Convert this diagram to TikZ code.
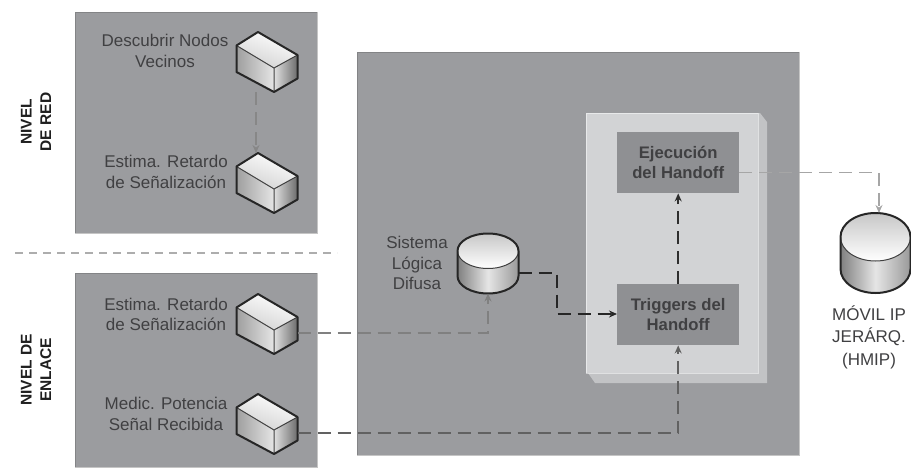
\documentclass[tikz,border=0pt]{standalone}
\usepackage{fontspec}
\setmainfont{Liberation Sans}
\usetikzlibrary{arrows.meta,calc}
\definecolor{panelgray}{HTML}{9B9C9F}
\definecolor{lightpanel}{HTML}{D2D3D5}
\definecolor{sidepanel}{HTML}{C2C3C5}
\definecolor{boxgray}{HTML}{8F9093}
\definecolor{inktext}{HTML}{404042}
\tikzset{
  panel/.style={fill=panelgray,draw=gray!70!black,draw opacity=.35,line width=.6pt,anchor=north west,inner sep=0pt},
  actionbox/.style={fill=boxgray,anchor=north west,inner sep=0pt,minimum width=122pt,minimum height=61pt,align=center,font=\fontsize{16.7}{20.5}\selectfont\bfseries,text=inktext},
  lbl/.style={align=center,font=\fontsize{17}{20.5}\selectfont,text=inktext,inner sep=0pt},
  side/.style={align=center,rotate=90,font=\fontsize{15.5}{19.5}\selectfont\bfseries,text=black!88,inner sep=0pt},
  outline/.style={draw=black!85,line width=2pt,line join=round},
  thin outline/.style={draw=black!75,line width=1pt},
  conn/.style={dash pattern=on 13pt off 7pt,line width=1.5pt,-{Stealth[length=8pt,width=7pt]}},
}
\newcommand{\cuboid}[3]{%
  \begin{scope}[shift={(#2,#3)}]
    \shade[top color=white,bottom color=black!18,shading angle=-20] (0,0)--(-21.5,13.5)--(16,36)--(39.5,23)--cycle;
    \shade[left color=black!38,right color=black!10] (-21.5,13.5)--(-21.5,40)--(16,60)--(16,36)--cycle;
    \shade[left color=black!12,right color=black!58] (16,36)--(16,60)--(39.5,46.5)--(39.5,23)--cycle;
    \draw[thin outline] (-21.5,13.5)--(16,36)--(39.5,23) (16,36)--(16,60);
    \draw[outline] (0,0)--(-21.5,13.5)--(-21.5,40)--(16,60)--(39.5,46.5)--(39.5,23)--cycle;
    \coordinate (#1-top) at (-2,0);
    \coordinate (#1-bottom) at (-2,60);
    \coordinate (#1-right) at (39.5,39);
  \end{scope}}
\newcommand{\drum}[6]{% name, cx, top-ellipse cy, rx, ry, height
  \begin{scope}[shift={(#2,#3)}]
    \shade[left color=black!50,right color=black!40,middle color=black!10] (-#4,0)--(-#4,#6) arc[start angle=180,end angle=360,x radius=#4,y radius=-#5] -- (#4,0) -- cycle;
    \shade[top color=black!22,bottom color=white] (0,0) ellipse[x radius=#4,y radius=#5];
    \draw[thin outline] (-#4,0) arc[start angle=180,end angle=360,x radius=#4,y radius=-#5];
    \draw[outline] (-#4,0) arc[start angle=180,end angle=0,x radius=#4,y radius=-#5] -- (#4,#6) arc[start angle=360,end angle=180,x radius=#4,y radius=-#5] -- cycle;
    \coordinate (#1-top) at (0,-#5);
    \coordinate (#1-bottom) at (0,#6+#5);
    \coordinate (#1-right) at (#4,22);
  \end{scope}}
\begin{document}
\begin{tikzpicture}[x=1pt,y=-1pt]
\path[use as bounding box] (0,0) rectangle (911,469);
% panels
\node[panel,minimum width=242pt,minimum height=221pt] (netpanel) at (75,12) {};
\node[panel,minimum width=242pt,minimum height=194pt] (linkpanel) at (75,273) {};
\node[panel,minimum width=442pt,minimum height=403pt] (mainpanel) at (357,52) {};
% stacked light panel
\fill[sidepanel] (586,113)--(760,113)--(767,122)--(767,383)--(595,383)--(588,373)--cycle;
\node[fill=lightpanel,draw=white,draw opacity=.5,line width=.5pt,anchor=north west,inner sep=0pt,minimum width=172pt,minimum height=260pt] (handoffpanel) at (586,113) {};
% boxes
\node[actionbox] (ejec) at (617,132) {Ejecución\\del Handoff};
\node[actionbox] (trig) at (617,284) {Triggers del\\Handoff};
% cuboids
\cuboid{c1}{258}{32}
\cuboid{c2}{258}{153}
\cuboid{c3}{258}{294}
\cuboid{c4}{258}{394}
% drums
\drum{sis}{488}{251}{30.5}{17.5}{25}
\drum{hmip}{875.5}{237}{35}{24}{32}
% labels
\node[lbl] (t1) at (165,51) {Descubrir Nodos\\Vecinos};
\node[lbl] (t2) at (166,172) {Estima. Retardo\\de Señalización};
\node[lbl] (t3) at (166,314.5) {Estima. Retardo\\de Señalización};
\node[lbl] (t4) at (166,414) {Medic. Potencia\\Señal Recibida};
\node[lbl] (t5) at (417,263) {Sistema\\Lógica\\Difusa};
\node[lbl,font=\fontsize{17}{22.5}\selectfont] (t6) at (869,337) {MÓVIL IP\\JERÁRQ.\\(HMIP)};
\node[side] (s1) at (36,122) {NIVEL\\DE RED};
\node[side] (s2) at (36,370) {NIVEL DE\\ENLACE};
% separator
\coordinate (sepL) at (15,253);
\coordinate (sepR) at (337,253);
\draw[black!32,line width=1.1pt,dash pattern=on 8pt off 6pt] (sepL)--(sepR);
% connectors
\coordinate (bendA) at (557,314);
\coordinate (hmipIn) at (879,213);
\coordinate (ejecOut) at ($(ejec.south east)!.34!(ejec.north east)$);
\draw[conn,black!47] (c1-bottom)--(c2-top);
\draw[conn,black!50] (c3-right) -| (sis-bottom);
\draw[conn,black!62] (c4-right) -| (trig.south);
\draw[conn,black!85] (sis-right) -| (bendA) -- (trig.west |- bendA);
\draw[conn,black!82] (trig.north) -- (ejec.south);
\draw[conn,black!35] (ejecOut) -| (hmipIn);
\end{tikzpicture}
\end{document}
